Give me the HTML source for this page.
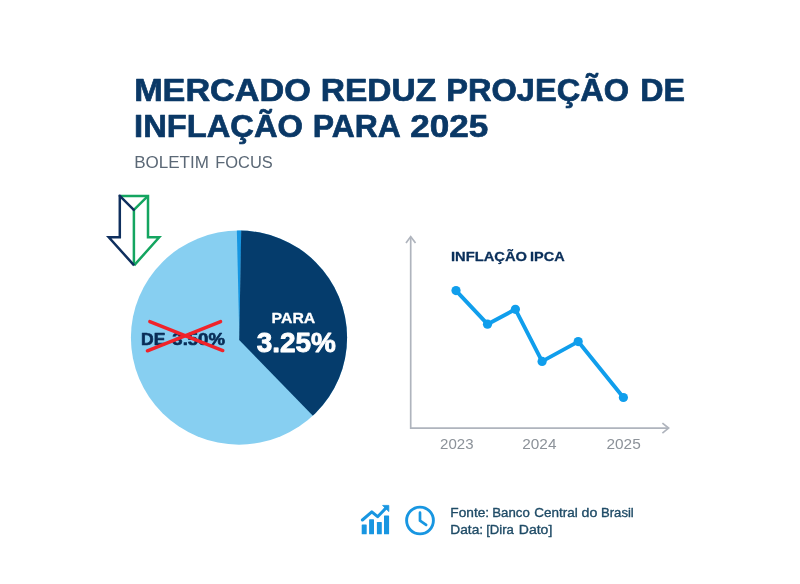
<!DOCTYPE html>
<html lang="pt-BR">
<head>
<meta charset="utf-8">
<title>Mercado reduz projeção de inflação para 2025</title>
<style>
html,body{margin:0;padding:0;background:#ffffff;}
body{width:800px;height:584px;overflow:hidden;position:relative;}
svg{position:absolute;left:0;top:0;display:block;}
text{font-family:"Liberation Sans",sans-serif;}
</style>
</head>
<body>
<svg width="800" height="584" viewBox="0 0 800 584">
  <rect x="0" y="0" width="800" height="584" fill="#ffffff"/>

  <!-- Pie -->
  <defs><clipPath id="pieclip"><ellipse cx="239" cy="337.6" rx="108.1" ry="107.05"/></clipPath></defs>
  <ellipse cx="239" cy="337.6" rx="108.1" ry="107.05" fill="#87cff1"/>
  <g clip-path="url(#pieclip)">
    <path d="M239.3 335 L236.6 220 L241.6 220 Z" fill="#1796e1"/>
    <path d="M239.2 340 L241.4 220 L370 220 L370 445 L335 438.5 Z" fill="#053c6c"/>
  </g>

  <!-- Arrow -->
  <g fill="none" stroke-width="2.5" stroke-linejoin="miter">
    <path d="M148 195.95 L133.9 209.8 L133.9 264.2" stroke="#14a560" stroke-linejoin="round"/>
    <path d="M121 195.95 L148 195.95 L148 237.25 L159.2 237.25 L134.1 265.4" stroke="#14a560"/>
    <path d="M119.8 195.95 L133.8 209.8" stroke="#0f2f5e" stroke-linecap="round"/>
    <path d="M134.1 265.4 L108.8 237.25 L119.8 237.25 L119.8 194.7" stroke="#0f2f5e"/>
  </g>

  <!-- Line chart -->
  <g fill="none" stroke="#afb4bd" stroke-width="1.7">
    <path d="M410.7 237 L410.7 428.1 L668 428.1"/>
    <path d="M406 242.9 L410.7 236.6 L415.5 242.9"/>
    <path d="M662.4 423.1 L668.6 428.1 L662.4 433.1"/>
  </g>
  <polyline points="456,290.6 487.5,324.2 515.4,309.3 542.1,361.4 578.2,341.6 623.4,397.5" fill="none" stroke="#109eec" stroke-width="3.9" stroke-linejoin="round"/>
  <g fill="#109eec">
    <circle cx="456" cy="290.6" r="4.6"/>
    <circle cx="487.5" cy="324.2" r="4.6"/>
    <circle cx="515.4" cy="309.3" r="4.6"/>
    <circle cx="542.1" cy="361.4" r="4.6"/>
    <circle cx="578.2" cy="341.6" r="4.6"/>
    <circle cx="623.4" cy="397.5" r="4.6"/>
  </g>

  <!-- Footer icons -->
  <g fill="#1896e1">
    <rect x="361.7" y="524.4" width="5" height="9.9" rx="0.6"/>
    <rect x="369.1" y="519.3" width="4.9" height="15" rx="0.6"/>
    <rect x="376.9" y="522" width="4.9" height="12.3" rx="0.6"/>
    <rect x="384" y="515.5" width="5.1" height="18.8" rx="0.6"/>
    <path d="M382.6 505.4 L388.8 505.4 L388.8 511.6 Z" stroke="#1896e1" stroke-width="0.8" stroke-linejoin="round"/>
  </g>
  <path d="M362.4 520 L371.8 511.8 L377.6 516.7 L386.6 507.4" fill="none" stroke="#1896e1" stroke-width="3" stroke-linecap="round" stroke-linejoin="round"/>
  <circle cx="420" cy="520.5" r="13.4" fill="none" stroke="#1896e1" stroke-width="2.9"/>
  <path d="M420 512.7 L420 520.7 L426.1 524.9" fill="none" stroke="#1896e1" stroke-width="2.7" stroke-linecap="round" stroke-linejoin="round"/>

  <!-- Text -->
  <text transform="translate(134.13 101.25) scale(1.0878 1)" font-size="31.45" font-weight="bold" fill="#0a3866" stroke="#0a3866" stroke-width="0.7" stroke-linejoin="round">MERCADO</text>
  <text transform="translate(320.67 101.25) scale(1.0659 1)" font-size="31.45" font-weight="bold" fill="#0a3866" stroke="#0a3866" stroke-width="0.7" stroke-linejoin="round">REDUZ</text>
  <text transform="translate(446.23 101.25) scale(1.0362 1)" font-size="31.45" font-weight="bold" fill="#0a3866" stroke="#0a3866" stroke-width="0.7" stroke-linejoin="round">PROJEÇÃO</text>
  <text transform="translate(640.16 101.25) scale(1.0244 1)" font-size="31.45" font-weight="bold" fill="#0a3866" stroke="#0a3866" stroke-width="0.7" stroke-linejoin="round">DE</text>
  <text transform="translate(134.07 136.90) scale(1.0397 1)" font-size="31.45" font-weight="bold" fill="#0a3866" stroke="#0a3866" stroke-width="0.7" stroke-linejoin="round">INFLAÇÃO</text>
  <text transform="translate(312.78 136.90) scale(1.0148 1)" font-size="31.45" font-weight="bold" fill="#0a3866" stroke="#0a3866" stroke-width="0.7" stroke-linejoin="round">PARA</text>
  <text transform="translate(410.32 136.90) scale(1.1158 1)" font-size="31.45" font-weight="bold" fill="#0a3866" stroke="#0a3866" stroke-width="0.7" stroke-linejoin="round">2025</text>
  <text transform="translate(134.14 167.80) scale(1.0406 1)" font-size="16.38" font-weight="normal" fill="#5b6876">BOLETIM</text>
  <text transform="translate(215.18 167.80) scale(1.0041 1)" font-size="16.38" font-weight="normal" fill="#5b6876">FOCUS</text>
  <text transform="translate(141.06 344.90) scale(1.1187 1)" font-size="15.65" font-weight="bold" fill="#082c56" stroke="#082c56" stroke-width="0.6" stroke-linejoin="round">DE</text>
  <text transform="translate(172.34 344.90) scale(1.1849 1)" font-size="15.65" font-weight="bold" fill="#082c56" stroke="#082c56" stroke-width="0.6" stroke-linejoin="round">3.50%</text>
  <text transform="translate(271.62 322.95) scale(1.0608 1)" font-size="14.93" font-weight="bold" fill="#ffffff" stroke="#ffffff" stroke-width="0.3" stroke-linejoin="round">PARA</text>
  <text transform="translate(256.65 351.80) scale(1.0092 1)" font-size="27.68" font-weight="bold" fill="#ffffff" stroke="#ffffff" stroke-width="0.9" stroke-linejoin="round">3.25%</text>
  <text transform="translate(450.99 261.25) scale(1.1303 1)" font-size="13.04" font-weight="bold" fill="#0a2f5a" stroke="#0a2f5a" stroke-width="0.3" stroke-linejoin="round">INFLAÇÃO</text>
  <text transform="translate(530.01 261.25) scale(1.1124 1)" font-size="13.04" font-weight="bold" fill="#0a2f5a" stroke="#0a2f5a" stroke-width="0.3" stroke-linejoin="round">IPCA</text>
  <text transform="translate(440.10 448.80) scale(1.0594 1)" font-size="14.20" font-weight="normal" fill="#8c9299">2023</text>
  <text transform="translate(522.33 448.80) scale(1.0799 1)" font-size="14.20" font-weight="normal" fill="#8c9299">2024</text>
  <text transform="translate(606.48 448.80) scale(1.0850 1)" font-size="14.20" font-weight="normal" fill="#8c9299">2025</text>
  <text transform="translate(450.33 517.33) scale(1.0800 1)" font-size="12.68" font-weight="normal" fill="#1f4b66" stroke="#1f4b66" stroke-width="0.35" stroke-linejoin="round">Fonte:</text>
  <text transform="translate(492.22 517.33) scale(1.0442 1)" font-size="12.68" font-weight="normal" fill="#1f4b66" stroke="#1f4b66" stroke-width="0.35" stroke-linejoin="round">Banco</text>
  <text transform="translate(534.25 517.33) scale(1.0667 1)" font-size="12.68" font-weight="normal" fill="#1f4b66" stroke="#1f4b66" stroke-width="0.35" stroke-linejoin="round">Central</text>
  <text transform="translate(581.51 517.33) scale(1.1216 1)" font-size="12.68" font-weight="normal" fill="#1f4b66" stroke="#1f4b66" stroke-width="0.35" stroke-linejoin="round">do</text>
  <text transform="translate(601.03 517.33) scale(1.0330 1)" font-size="12.68" font-weight="normal" fill="#1f4b66" stroke="#1f4b66" stroke-width="0.35" stroke-linejoin="round">Brasil</text>
  <text transform="translate(450.33 533.58) scale(1.0834 1)" font-size="12.68" font-weight="normal" fill="#1f4b66" stroke="#1f4b66" stroke-width="0.35" stroke-linejoin="round">Data:</text>
  <text transform="translate(486.15 533.58) scale(1.0379 1)" font-size="12.68" font-weight="normal" fill="#1f4b66" stroke="#1f4b66" stroke-width="0.35" stroke-linejoin="round">[Dira</text>
  <text transform="translate(518.80 533.58) scale(1.1054 1)" font-size="12.68" font-weight="normal" fill="#1f4b66" stroke="#1f4b66" stroke-width="0.35" stroke-linejoin="round">Dato]</text>
  <!-- Cross -->
  <g stroke="#f0232a" stroke-width="3.4" stroke-linecap="round">
    <line x1="149.8" y1="321.6" x2="222.8" y2="350.6"/>
    <line x1="147.4" y1="350.8" x2="220.6" y2="321.6"/>
  </g>
</svg>
</body>
</html>
